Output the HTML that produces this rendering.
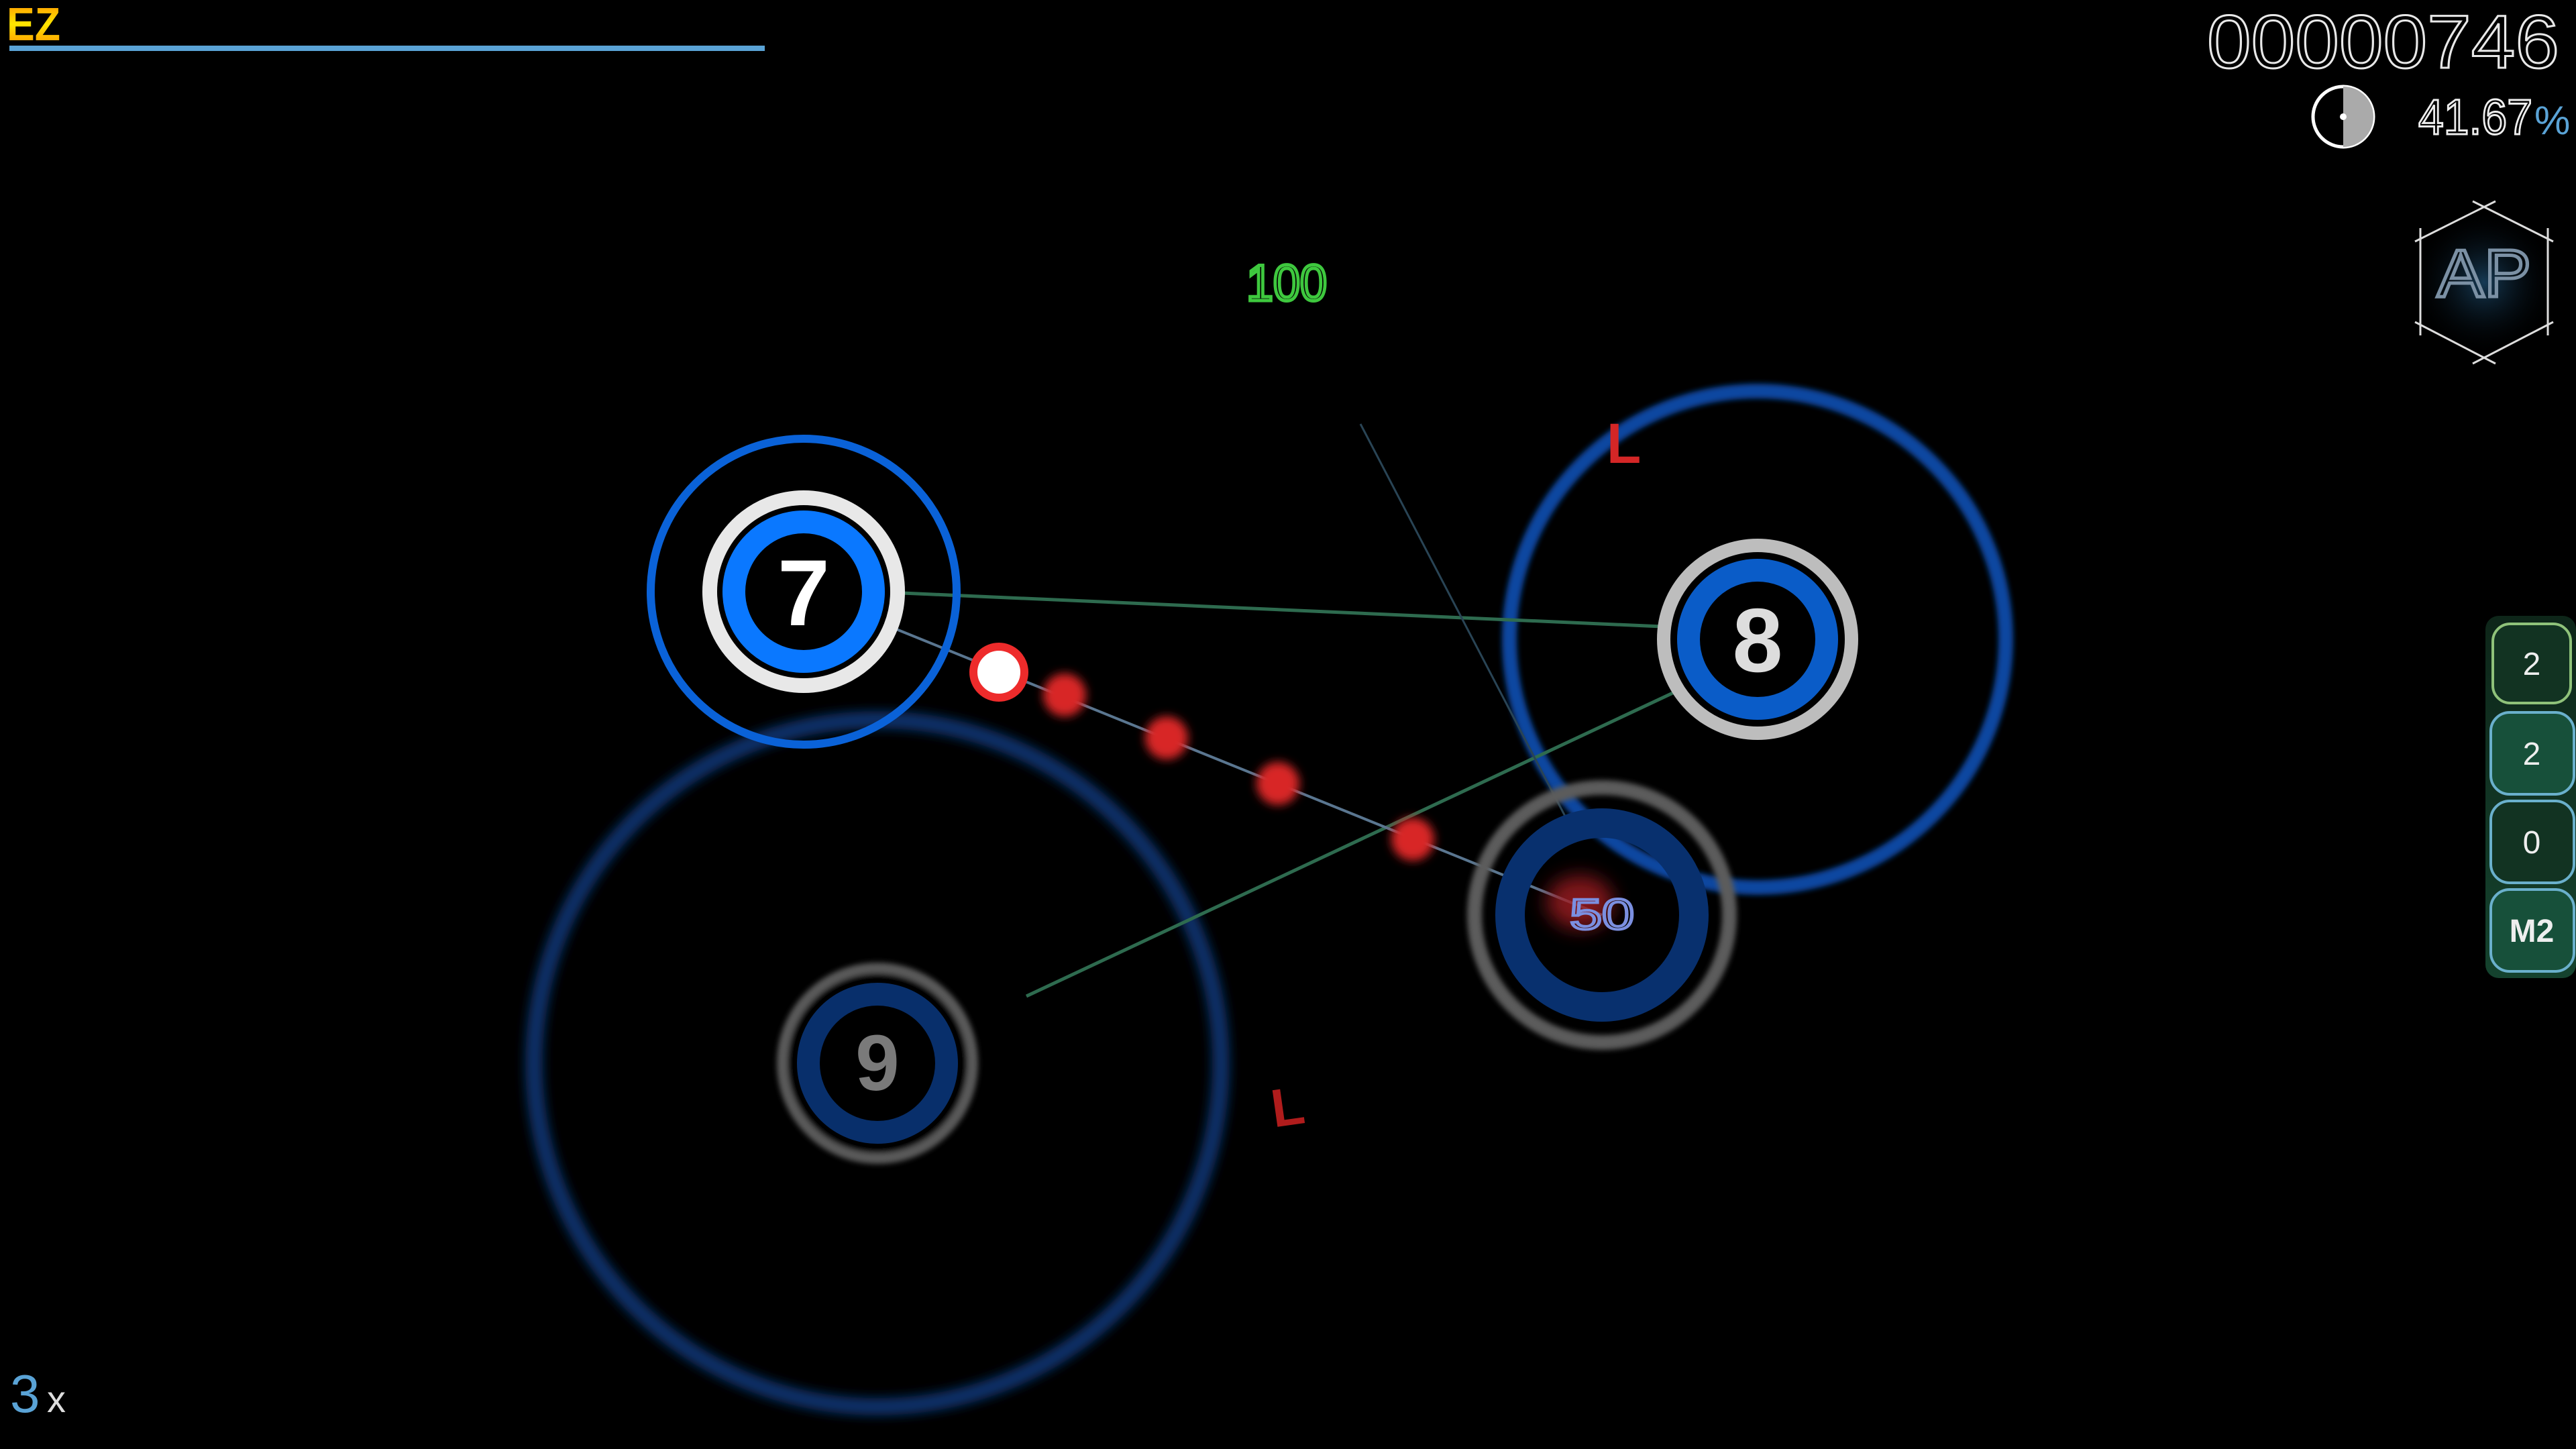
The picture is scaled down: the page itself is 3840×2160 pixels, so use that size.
<!DOCTYPE html>
<html><head><meta charset="utf-8"><style>
html,body{margin:0;padding:0;background:#000;width:3840px;height:2160px;overflow:hidden}
svg{display:block}
text{font-family:"Liberation Sans","DejaVu Sans",sans-serif}
</style></head><body>
<svg width="3840" height="2160" viewBox="0 0 3840 2160" xmlns="http://www.w3.org/2000/svg">
<defs>
<filter id="b4" x="-50%" y="-50%" width="200%" height="200%"><feGaussianBlur stdDeviation="4"/></filter>
<filter id="b7" x="-50%" y="-50%" width="200%" height="200%"><feGaussianBlur stdDeviation="7"/></filter>
<filter id="b8" x="-50%" y="-50%" width="200%" height="200%"><feGaussianBlur stdDeviation="8"/></filter>
<filter id="b14" x="-50%" y="-50%" width="200%" height="200%"><feGaussianBlur stdDeviation="14"/></filter>
<linearGradient id="ez" x1="0" y1="0" x2="0" y2="1"><stop offset="0" stop-color="#ff8a00"/><stop offset="0.5" stop-color="#ffe600"/><stop offset="1" stop-color="#ff8a00"/></linearGradient>
<radialGradient id="apg"><stop offset="0" stop-color="#163a55"/><stop offset="1" stop-color="#000" stop-opacity="0"/></radialGradient>
<linearGradient id="pan" x1="0" y1="0" x2="0" y2="1"><stop offset="0" stop-color="#0f2a1c"/><stop offset="1" stop-color="#174a33"/></linearGradient>
</defs>

<text x="10" y="60" font-size="70" font-weight="bold" fill="url(#ez)" textLength="80" lengthAdjust="spacingAndGlyphs">EZ</text>
<rect x="14" y="68" width="1126" height="8" fill="#5aa3d6"/>

<text x="3290" y="101" font-size="112" fill="none" stroke="#e8e8e8" stroke-width="3" font-family="DejaVu Sans Mono" textLength="525" lengthAdjust="spacingAndGlyphs">00000746</text>
<circle cx="3493" cy="174" r="45" fill="#000" stroke="#fff" stroke-width="5"/>
<path d="M3493 129 A45 45 0 0 1 3493 219 Z" fill="#aaa"/>
<circle cx="3493" cy="174" r="5" fill="#fff"/>
<text x="3605" y="200" font-size="74" fill="none" stroke="#eee" stroke-width="3" font-family="DejaVu Sans" textLength="170" lengthAdjust="spacingAndGlyphs">41.67</text>
<text x="3778" y="200" font-size="60" fill="#5aa3d6">%</text>

<circle cx="3703" cy="421" r="110" fill="url(#apg)"/>
<g stroke="#ddd" stroke-width="3" fill="none">
<line x1="3600" y1="360" x2="3720" y2="300"/><line x1="3686" y1="300" x2="3806" y2="360"/>
<line x1="3600" y1="480" x2="3720" y2="542"/><line x1="3686" y1="542" x2="3806" y2="480"/>
<line x1="3608" y1="340" x2="3608" y2="500"/><line x1="3798" y1="340" x2="3798" y2="500"/>
</g>
<text x="3703" y="442" font-size="100" fill="none" stroke="#7b90a4" stroke-width="5" text-anchor="middle" font-family="DejaVu Sans" textLength="140" lengthAdjust="spacingAndGlyphs">AP</text>

<rect x="3705" y="918" width="135" height="540" rx="20" fill="url(#pan)" opacity="0.9"/>
<g stroke-width="4" fill="#123322">
<rect x="3716" y="930" width="116" height="118" rx="26" stroke="#8fc27a"/>
<rect x="3713" y="1062" width="124" height="122" rx="28" stroke="#6ab0cc" fill="#17503a"/>
<rect x="3713" y="1194" width="124" height="122" rx="28" stroke="#6ab0cc" fill="#123322"/>
<rect x="3713" y="1326" width="124" height="122" rx="28" stroke="#6ab0cc" fill="#17503a"/>
</g>
<g fill="#eee" font-size="48" text-anchor="middle">
<text x="3774" y="1006">2</text><text x="3774" y="1140">2</text><text x="3774" y="1272">0</text>
<text x="3774" y="1404" font-weight="bold">M2</text>
</g>

<circle cx="1308" cy="1585" r="512" fill="none" stroke="#08306a" stroke-width="26" filter="url(#b8)"/>
<circle cx="2620" cy="953" r="370" fill="none" stroke="#0b46a0" stroke-width="22" filter="url(#b4)"/>

<line x1="1345" y1="884" x2="2500" y2="935" stroke="#2e6b4f" stroke-width="5"/>
<line x1="1530" y1="1485" x2="2500" y2="1030" stroke="#2e6b4f" stroke-width="5"/>
<line x1="2028" y1="632" x2="2340" y2="1230" stroke="#294455" stroke-width="3"/>
<line x1="1198" y1="882" x2="2388" y2="1364" stroke="#5a7690" stroke-width="4"/>

<circle cx="1308" cy="1585" r="142" fill="#000" stroke="#5a5a5a" stroke-width="16" filter="url(#b4)"/>
<circle cx="1308" cy="1585" r="103" fill="none" stroke="#082f6b" stroke-width="34"/>
<text x="1308" y="1625" font-size="118" font-weight="bold" fill="#7a7a7a" text-anchor="middle">9</text>

<circle cx="2388" cy="1364" r="190" fill="none" stroke="#5c5c5c" stroke-width="22" filter="url(#b4)"/>
<circle cx="2388" cy="1364" r="137" fill="none" stroke="#08306e" stroke-width="44"/>
<ellipse cx="2355" cy="1345" rx="50" ry="40" fill="#a01c22" opacity="0.8" filter="url(#b14)"/>
<text x="2388" y="1385" font-size="64" fill="none" stroke="#7b8fe0" stroke-width="4" text-anchor="middle" font-family="DejaVu Sans Mono" textLength="96" lengthAdjust="spacingAndGlyphs">50</text>

<g fill="#d82828" filter="url(#b7)">
<circle cx="1587" cy="1036" r="32"/>
<circle cx="1739" cy="1100" r="32"/>
<circle cx="1905" cy="1168" r="32"/>
<circle cx="2106" cy="1251" r="32"/>
</g>

<circle cx="1198" cy="882" r="228" fill="none" stroke="#0a62d8" stroke-width="12"/>
<circle cx="1198" cy="882" r="140" fill="#000" stroke="#e8e8e8" stroke-width="22"/>
<circle cx="1198" cy="882" r="104" fill="none" stroke="#0a78ff" stroke-width="34"/>
<text x="1198" y="932" font-size="140" font-weight="bold" fill="#fff" text-anchor="middle">7</text>

<circle cx="1489" cy="1002" r="38" fill="#fff" stroke="#ee2b2b" stroke-width="12"/>

<circle cx="2620" cy="953" r="140" fill="#000" stroke="#bdbdbd" stroke-width="20"/>
<circle cx="2620" cy="953" r="103" fill="none" stroke="#0a5cc8" stroke-width="34"/>
<text x="2620" y="1001" font-size="135" font-weight="bold" fill="#ddd" text-anchor="middle">8</text>

<text x="1918" y="448" font-size="76" fill="none" stroke="#3ec83e" stroke-width="5" text-anchor="middle" font-family="DejaVu Sans Mono" textLength="120" lengthAdjust="spacingAndGlyphs">100</text>

<text x="2395" y="690" font-size="84" fill="#d42626" font-weight="bold">L</text>
<text x="1895" y="1678" font-size="80" fill="#b01c1c" font-weight="bold" transform="rotate(-8 1915 1650)">L</text>

<text x="15" y="2105" font-size="80" fill="#5aa3d6" font-family="DejaVu Sans Mono">3</text>
<text x="70" y="2105" font-size="56" fill="#ddd">x</text>
</svg>
</body></html>
